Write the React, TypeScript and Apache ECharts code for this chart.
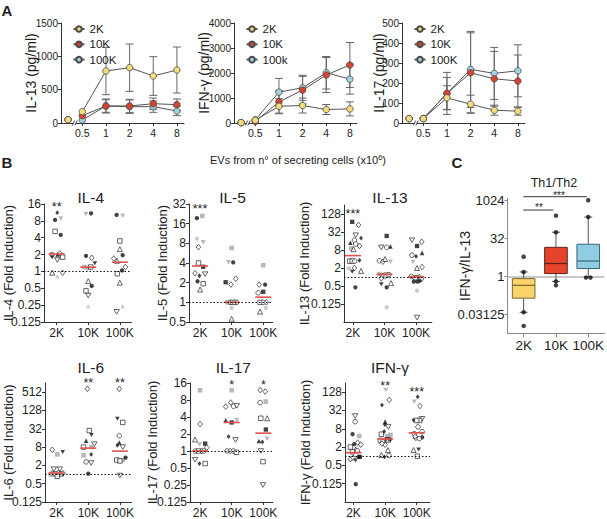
import { useEffect, useRef } from 'react';
import * as echarts from 'echarts';

const FONT = '"Liberation Sans", Arial, Helvetica, sans-serif';
const INK = '#222';

// ---------------- Panel A : time courses ----------------
const timeLabels = ['0.5', '1', '2', '4', '8'];
// first position = unstimulated baseline drawn before the axis break
const timePositions = [-0.6, 0, 1, 2, 3, 4];
const groups = ['2K', '10K', '100K'];
const groupFill = ['#f4dc7c', '#d9432d', '#a3d3e1'];

const il13Mean2K = [50, 170, 780, 830, 705, 795];
const il13Sd2K = [0, 0, 355, 355, 290, 345];
const il13Mean10K = [50, 110, 255, 255, 290, 275];
const il13Sd10K = [0, 0, 105, 100, 85, 85];
const il13Mean100K = [50, 45, 255, 245, 245, 180];
const il13Sd100K = [0, 0, 95, 100, 85, 70];

const ifngMean2K = [15, 110, 670, 700, 540, 565];
const ifngSd2K = [0, 0, 300, 300, 200, 280];
const ifngMean10K = [15, 60, 845, 1315, 1920, 2320];
const ifngSd10K = [0, 0, 450, 550, 700, 900];
const ifngMean100K = [15, 130, 1235, 1410, 2010, 1755];
const ifngSd100K = [0, 0, 550, 500, 650, 600];

const il17Mean2K = [22, 22, 126, 94, 64, 59];
const il17Sd2K = [0, 0, 60, 45, 25, 20];
const il17Mean10K = [22, 22, 148, 251, 221, 210];
const il17Sd10K = [0, 0, 105, 200, 137, 130];
const il17Mean100K = [22, 22, 148, 268, 248, 261];
const il17Sd100K = [0, 0, 80, 190, 130, 130];

const panelA = [
  { yName: 'IL-13 (pg/ml)', yMax: 1500, yStep: 500, legend: ['2K', '10K', '100K'],
    means: [il13Mean2K, il13Mean10K, il13Mean100K], sds: [il13Sd2K, il13Sd10K, il13Sd100K] },
  { yName: 'IFN-γ (pg/ml)', yMax: 4000, yStep: 1000, legend: ['2K', '10K', '100k'],
    means: [ifngMean2K, ifngMean10K, ifngMean100K], sds: [ifngSd2K, ifngSd10K, ifngSd100K] },
  { yName: 'IL-17 (pg/ml)', yMax: 500, yStep: 100, legend: ['2K', '10K', '100K'],
    means: [il17Mean2K, il17Mean10K, il17Mean100K], sds: [il17Sd2K, il17Sd10K, il17Sd100K] },
];
const panelALayout = [
  { left: 61, nameGap: 23 },
  { left: 234, nameGap: 23 },
  { left: 402, nameGap: 16 },
];

// ---------------- Panel B : fold induction dot plots ----------------
// [group index, horizontal jitter (group units), fold induction, marker code]
type Pt = [number, number, number, string];

const il4Points: Pt[] = [
  [0, 0.02, 11.2, 'D'], [0, -0.05, 8.3, 'c'], [0, 0.13, 8.8, 'w'], [0, -0.05, 5.2, 's'], [0, 0.13, 4.5, 'c'],
  [0, 0.1, 2.1, 'd'], [0, -0.15, 2.0, 'o'], [0, 0.03, 2.0, 'T'], [0, -0.14, 1.8, 'V'], [0, 0.02, 1.6, 'v'], [0, 0.19, 1.8, 's'],
  [0, -0.14, 0.95, 't'], [0, 0.02, 0.82, 'x'], [0, 0.19, 0.95, 'd'],
  [1, -0.07, 10.6, 'w'], [1, 0.09, 10.9, 'c'], [1, -0.07, 1.9, 'c'], [1, 0.11, 1.75, 'd'], [1, 0.21, 1.4, 'V'],
  [1, -0.12, 1.2, 'g'], [1, 0.0, 1.15, 'g'], [1, 0.08, 1.2, 's'],
  [1, 0, 0.67, 't'], [1, 0.11, 0.55, 'c'], [1, -0.07, 0.45, 's'], [1, 0, 0.37, 'v'], [1, 0, 0.24, 'x'],
  [2, -0.1, 10.2, 'c'], [2, 0.09, 9.8, 'w'], [2, 0, 3.5, 's'], [2, 0, 2.5, 't'], [2, -0.19, 1.7, 'd'], [2, -0.09, 1.55, 't'],
  [2, 0.09, 1.95, 'c'], [2, 0.18, 1.2, 'd'], [2, 0.07, 1.04, 'c'], [2, -0.08, 0.91, 's'], [2, 0, 0.63, 't'],
  [2, -0.1, 0.19, 'v'], [2, 0.09, 0.24, 'x'],
];
const il4Medians = [2.05, 1.19, 1.46];

const il5Points: Pt[] = [
  [0, -0.1, 19.4, 'c'], [0, 0.07, 21, 'g'], [0, -0.1, 9.4, 'G'], [0, 0.1, 8.3, 'w'], [0, -0.05, 7.0, 'd'],
  [0, -0.05, 4.0, 's'], [0, 0.1, 3.5, 'S'], [0, -0.16, 2.8, 'd'], [0, -0.02, 2.55, 'D'], [0, 0.16, 2.7, 'v'],
  [0, -0.08, 2.1, 'c'], [0, 0.1, 1.93, 's'], [0, 0, 1.57, 't'],
  [1, 0, 6.8, 'g'], [1, -0.1, 4.1, 'w'], [1, 0.05, 4.1, 'c'], [1, -0.19, 2.03, 'S'], [1, 0.13, 2.3, 'd'], [1, -0.02, 1.87, 'd'],
  [1, -0.13, 1.0, 'g'], [1, -0.05, 1.0, 'o'], [1, 0.03, 1.0, 's'], [1, 0.1, 1.0, 'o'], [1, 0.17, 1.0, 'd'],
  [1, 0, 0.82, 'G'], [1, 0, 0.56, 't'],
  [2, 0, 3.7, 'g'], [2, -0.13, 1.87, 'd'], [2, 0.06, 1.87, 'c'], [2, 0, 1.45, 'S'], [2, -0.16, 1.4, 'o'],
  [2, -0.1, 1.0, 's'], [2, 0, 1.0, 'o'], [2, 0.1, 1.0, 'd'],
  [2, -0.1, 0.72, 't'], [2, 0.08, 0.82, 'G'],
];
const il5Medians = [3.6, 1.0, 1.2];

const il13Points: Pt[] = [
  [0, -0.02, 70, 'S'], [0, 0.18, 55, 'd'], [0, 0.09, 25, 'v'], [0, 0.26, 20, 'D'], [0, 0.05, 17, 'o'], [0, -0.08, 14, 'T'],
  [0, 0.09, 12.7, 'o'], [0, 0.21, 10.9, 'd'], [0, -0.05, 9.1, 'g'], [0, 0.02, 8.5, 't'],
  [0, -0.1, 3.4, 's'], [0, -0.02, 3.4, 's'], [0, 0.06, 3.4, 'o'], [0, 0.21, 3.6, 'D'],
  [0, -0.13, 1.96, 'G'], [0, 0.05, 2.0, 'd'], [0, -0.02, 1.5, 'V'], [0, 0.26, 1.6, 't'], [0, 0.08, 0.45, 'c'],
  [1, 0.07, 23.6, 'S'], [1, -0.1, 9.8, 'v'], [1, 0.07, 9.8, 'o'], [1, 0.19, 10.5, 'T'],
  [1, -0.16, 3.5, 'o'], [1, -0.05, 3.25, 'd'], [1, 0.02, 4.0, 't'], [1, 0.19, 3.25, 'w'],
  [1, -0.16, 1.25, 'g'], [1, -0.05, 1.1, 'd'], [1, 0.05, 1.15, 's'], [1, 0.14, 1.2, 'o'], [1, 0.02, 0.95, 'G'], [1, -0.1, 0.9, 'd'],
  [1, -0.1, 0.57, 'V'], [1, 0.07, 0.45, 'c'], [1, 0.21, 0.62, 't'], [1, 0.07, 0.097, 'G'],
  [2, -0.13, 17, 'v'], [2, 0.18, 15, 'd'], [2, 0.03, 10.9, 'S'], [2, -0.13, 5.4, 'o'], [2, 0, 4.9, 'D'], [2, 0.19, 6.4, 'T'],
  [2, -0.1, 3.2, 'w'], [2, 0.03, 2.0, 't'], [2, 0.19, 2.15, 'd'],
  [2, -0.15, 1.05, 'o'], [2, 0.1, 1.0, 'd'], [2, -0.02, 0.95, 's'], [2, 0.16, 0.85, 'o'],
  [2, -0.07, 0.7, 'c'], [2, 0.05, 0.7, 'c'], [2, 0.13, 0.75, 'D'], [2, 0.03, 0.35, 'G'], [2, 0.03, 0.044, 'v'],
];
const il13Medians = [5.2, 1.23, 1.02];

const il6Points: Pt[] = [
  [0, -0.14, 6.5, 'd'], [0, 0.02, 4.6, 'g'], [0, 0.19, 5.5, 'V'], [0, -0.09, 1.5, 'v'], [0, 0.1, 1.5, 'v'],
  [0, -0.14, 1.1, 'o'], [0, -0.05, 1.05, 's'], [0, 0.05, 1.15, 'd'], [0, 0.14, 1.05, 's'], [0, 0.2, 1.1, 'd'],
  [0, -0.18, 1.0, 'g'], [0, 0.02, 0.87, 's'],
  [1, -0.03, 660, 'd'], [1, 0.03, 28, 's'], [1, 0.1, 20, 'V'], [1, -0.07, 13, 'T'], [1, -0.15, 8, 's'], [1, 0.19, 10, 'v'],
  [1, 0.1, 8, 'g'], [1, -0.15, 4.3, 'g'], [1, 0.09, 4.6, 'D'], [1, -0.07, 2.6, 'o'], [1, 0.09, 2.4, 'v'], [1, 0, 1.07, 'c'],
  [2, -0.02, 660, 'd'], [2, -0.08, 68, 'V'], [2, 0.09, 52, 's'], [2, -0.02, 19, 'o'], [2, -0.02, 11.3, 'T'], [2, 0.09, 8, 'v'],
  [2, -0.08, 9.2, 'D'], [2, -0.1, 3, 's'], [2, 0.09, 3, 'g'], [2, 0.18, 3.6, 'c'], [2, 0, 2.8, 's'], [2, 0, 0.93, 'v'],
];
const il6Medians = [1.12, 7.4, 5.9];

const il17Points: Pt[] = [
  [0, 0, 11.9, 'g'], [0, 0, 3.0, 'd'], [0, -0.16, 1.6, 't'], [0, -0.02, 1.3, 'w'], [0, 0.16, 1.35, 'S'], [0, 0.21, 1.15, 'd'],
  [0, -0.15, 1.0, 'o'], [0, -0.05, 1.0, 's'], [0, 0.05, 1.0, 'd'], [0, 0.12, 1.0, 'o'],
  [0, -0.16, 0.7, 'v'], [0, -0.02, 0.6, 'D'], [0, 0.16, 0.6, 's'],
  [1, 0, 11.9, 'g'], [1, -0.03, 7.2, 'd'], [1, -0.19, 6.1, 'd'], [1, 0.06, 6.2, 'o'], [1, 0.16, 6.3, 'v'],
  [1, -0.19, 3.5, 'T'], [1, 0.16, 3.5, 'w'], [1, 0, 3.2, 'S'], [1, -0.1, 1.8, 'D'], [1, 0.12, 1.57, 'v'],
  [1, -0.15, 1.0, 'o'], [1, -0.05, 1.0, 'd'], [1, 0.05, 1.0, 'o'], [1, 0.15, 0.95, 's'],
  [2, -0.1, 12, 'd'], [2, 0.06, 11.3, 'd'], [2, -0.1, 7.2, 'o'], [2, 0.08, 7.5, 'g'], [2, -0.08, 3.8, 's'], [2, 0.12, 3.8, 't'],
  [2, 0.08, 2.4, 'S'], [2, -0.14, 1.5, 'T'], [2, -0.03, 1.45, 'D'], [2, 0.12, 1.65, 'w'], [2, -0.08, 1.0, 'v'],
  [2, -0.01, 0.65, 's'], [2, -0.01, 0.25, 'v'],
];
const il17Medians = [1.0, 3.2, 2.07];

const ifngPoints: Pt[] = [
  [0, 0.05, 21, 'v'], [0, 0.05, 13.7, 'o'], [0, -0.03, 5.3, 'c'], [0, 0.18, 4.6, 'g'], [0, 0.02, 2.5, 'c'],
  [0, 0.13, 2.8, 'd'], [0, 0.23, 2.4, 'd'], [0, -0.1, 2.0, 's'], [0, 0.07, 1.66, 't'], [0, -0.03, 1.4, 's'], [0, 0.12, 1.5, 'o'],
  [0, -0.1, 0.8, 'd'], [0, -0.02, 0.9, 'd'], [0, 0.06, 0.72, 'V'], [0, 0.2, 0.95, 'S'], [0, 0.16, 0.95, 'c'], [0, 0.07, 0.12, 'c'],
  [1, 0.02, 150, 'w'], [1, 0.13, 71, 'd'], [1, -0.1, 48, 'D'], [1, 0, 13.7, 'T'], [1, -0.01, 11, 'D'], [1, 0.1, 9.2, 'v'],
  [1, -0.12, 5.3, 's'], [1, -0.03, 6.5, 'D'], [1, 0.07, 4.6, 'g'], [1, 0.17, 5.0, 'g'],
  [1, -0.15, 3.3, 's'], [1, 0.05, 3.6, 'S'], [1, -0.08, 3.0, 'o'], [1, 0, 2.4, 'd'], [1, 0.1, 3.4, 's'], [1, 0.15, 3.6, 'c'],
  [1, -0.1, 2.6, 'd'], [1, -0.12, 1.1, 't'], [1, -0.02, 0.95, 'D'], [1, 0.12, 1.05, 'o'], [1, 0.09, 1.6, 't'],
  [2, -0.08, 62, 'w'], [2, 0.03, 90, 'D'], [2, 0.1, 45, 'd'], [2, 0.17, 17, 'v'], [2, 0.09, 15, 's'], [2, -0.1, 15.5, 'D'],
  [2, 0, 15, 's'], [2, 0.04, 9.2, 'o'], [2, 0.17, 6.4, 'o'], [2, 0.17, 4.2, 'c'], [2, -0.08, 5.5, 'o'], [2, -0.03, 4.0, 'o'],
  [2, 0.08, 3.8, 'o'], [2, -0.05, 4.5, 'd'], [2, -0.1, 1.6, 't'], [2, 0.06, 1.65, 'V'], [2, 0.02, 1.0, 's'],
];
const ifngMedians = [1.31, 3.7, 5.9];

const foldPlots = [
  { title: 'IL-4', yName: 'IL-4 (Fold Induction)', points: il4Points, medians: il4Medians, yMin: -3, yMax: 4, tickFrom: -3, tickTo: 4, tickStep: 1, stars: ['**', '', ''] },
  { title: 'IL-5', yName: 'IL-5 (Fold Induction)', points: il5Points, medians: il5Medians, yMin: -1, yMax: 5, tickFrom: -1, tickTo: 5, tickStep: 1, stars: ['***', '', ''] },
  { title: 'IL-13', yName: 'IL-13 (Fold Induction)', points: il13Points, medians: il13Medians, yMin: -5, yMax: 8, tickFrom: -3, tickTo: 7, tickStep: 2, stars: ['***', '', ''] },
  { title: 'IL-6', yName: 'IL-6 (Fold Induction)', points: il6Points, medians: il6Medians, yMin: -3, yMax: 10, tickFrom: -3, tickTo: 9, tickStep: 2, stars: ['', '**', '**'] },
  { title: 'IL-17', yName: 'IL-17 (Fold Induction)', points: il17Points, medians: il17Medians, yMin: -3, yMax: 4, tickFrom: -3, tickTo: 4, tickStep: 1, stars: ['', '*', '*'] },
  { title: 'IFN-γ', yName: 'IFN-γ (Fold Induction)', points: ifngPoints, medians: ifngMedians, yMin: -5, yMax: 8, tickFrom: -3, tickTo: 7, tickStep: 2, stars: ['', '**', '***'] },
];
const foldLayout = [
  { left: 44, top: 204, width: 87.5, height: 118, xMin: -0.4, xMax: 2.37, nameGap: 29, titleX: 90.8, titleY: 197, starY: [204, 0, 0] },
  { left: 189, top: 204, width: 83.7, height: 118, xMin: -0.35, xMax: 2.3, nameGap: 20, titleX: 232.5, titleY: 197, starY: [205.5, 0, 0] },
  { left: 344, top: 205, width: 87.9, height: 117, xMin: -0.28, xMax: 2.5, nameGap: 33, titleX: 390, titleY: 197, starY: [210.5, 0, 0] },
  { left: 45, top: 383, width: 86.6, height: 119, xMin: -0.37, xMax: 2.37, nameGap: 30, titleX: 90.8, titleY: 367.5, starY: [0, 379.5, 379.5] },
  { left: 190, top: 383, width: 82.8, height: 119, xMin: -0.32, xMax: 2.3, nameGap: 31.5, titleX: 233.3, titleY: 367.5, starY: [0, 382, 382] },
  { left: 345, top: 383, width: 85, height: 119, xMin: -0.27, xMax: 2.42, nameGap: 33.5, titleX: 390, titleY: 367.5, starY: [0, 382.5, 389] },
];

// ---------------- Panel C : Th1/Th2 ratio boxplot ----------------
const ratioWhiskerLow = [0.038, 0.63, 0.94];
const ratioQ1 = [0.137, 1.28, 2.03];
const ratioMedian = [0.44, 3.2, 4.0];
const ratioQ3 = [0.81, 13.9, 18.4];
const ratioWhiskerHigh = [1.48, 55, 218];
// [group index, jitter, value]
const ratioDots: [number, number, number][] = [
  [0, 0, 5.9], [0, 0, 1.48], [0, 0, 0.038], [0, 0, 0.011],
  [1, 0, 247], [1, 0, 55], [1, 0, 0.63], [1, 0, 0.44],
  [2, 0, 1000], [2, 0, 218], [2, -0.07, 0.89], [2, 0.07, 0.89],
];
const ratioTicks = [-5, 0, 5, 10];
const boxFill = ['#fad46a', '#e5432b', '#8fcde4'];
const boxStroke = ['#7a6630', '#5c2419', '#3d6676'];

const DOWN = 'path://M0,0L10,0L5,8.66Z';
const markers: Record<string, { symbol: string; size: any; fill: string; stroke?: string }> = {
  c: { symbol: 'circle', size: 4.3, fill: '#111' },
  o: { symbol: 'circle', size: 4.6, fill: '#fff', stroke: '#111' },
  G: { symbol: 'circle', size: 4.3, fill: '#bdbdbd' },
  s: { symbol: 'rect', size: 4.5, fill: '#fff', stroke: '#111' },
  S: { symbol: 'rect', size: 4.3, fill: '#111' },
  g: { symbol: 'rect', size: 4.6, fill: '#a6a6a6' },
  t: { symbol: 'triangle', size: 5, fill: '#fff', stroke: '#111' },
  T: { symbol: 'triangle', size: 4.6, fill: '#111' },
  x: { symbol: 'triangle', size: 4.6, fill: '#c2c2c2' },
  v: { symbol: DOWN, size: [5.4, 4.6], fill: '#fff', stroke: '#111' },
  V: { symbol: DOWN, size: [4.6, 4], fill: '#111' },
  w: { symbol: DOWN, size: [5, 4.4], fill: '#a6a6a6' },
  d: { symbol: 'diamond', size: [4.6, 5.6], fill: '#fff', stroke: '#111' },
  D: { symbol: 'diamond', size: [3.8, 4.8], fill: '#111' },
};

const txt = (text: string, x: number, y: number, size: number, extra: any = {}) => ({
  type: 'text', x, y, silent: true,
  style: { text, fill: INK, fontSize: size, fontFamily: FONT, align: 'center', verticalAlign: 'middle',
    textAlign: 'center', textVerticalAlign: 'middle', ...extra },
});

function errorBarRender(_p: any, api: any) {
  const x = api.value(0), m = api.value(1), sd = api.value(2);
  const t = api.coord([x, m + sd]);
  const b = api.coord([x, m - sd]);
  const st = { stroke: '#666', lineWidth: 1 };
  return {
    type: 'group', children: [
      { type: 'line', shape: { x1: t[0], y1: t[1], x2: b[0], y2: b[1] }, style: st },
      { type: 'line', shape: { x1: t[0] - 4, y1: t[1], x2: t[0] + 4, y2: t[1] }, style: st },
      { type: 'line', shape: { x1: b[0] - 4, y1: b[1], x2: b[0] + 4, y2: b[1] }, style: st },
    ],
  };
}

function medianRender(_p: any, api: any) {
  const p = api.coord([api.value(0), api.value(1)]);
  return { type: 'line', shape: { x1: p[0] - 8, y1: p[1], x2: p[0] + 8, y2: p[1] }, style: { stroke: '#e2504c', lineWidth: 1.6 } };
}

function boxRender(params: any, api: any) {
  const i = params.dataIndex;
  const x = api.value(0);
  const lo = api.coord([x, api.value(1)]);
  const q1 = api.coord([x, api.value(2)]);
  const md = api.coord([x, api.value(3)]);
  const q3 = api.coord([x, api.value(4)]);
  const hi = api.coord([x, api.value(5)]);
  const hw = 11.3, cap = 4;
  const ws = { stroke: '#555', lineWidth: 1 };
  const cx = md[0];
  return {
    type: 'group', children: [
      { type: 'line', shape: { x1: cx, y1: hi[1], x2: cx, y2: q3[1] }, style: ws },
      { type: 'line', shape: { x1: cx, y1: lo[1], x2: cx, y2: q1[1] }, style: ws },
      { type: 'line', shape: { x1: cx - cap, y1: hi[1], x2: cx + cap, y2: hi[1] }, style: ws },
      { type: 'line', shape: { x1: cx - cap, y1: lo[1], x2: cx + cap, y2: lo[1] }, style: ws },
      { type: 'rect', shape: { x: cx - hw, y: q3[1], width: 2 * hw, height: q1[1] - q3[1] }, style: { fill: boxFill[i], stroke: boxStroke[i], lineWidth: 1 } },
      { type: 'line', shape: { x1: cx - hw, y1: md[1], x2: cx + hw, y2: md[1] }, style: { stroke: boxStroke[i], lineWidth: 1.2 } },
    ],
  };
}

function powLabel(v: number) {
  return String(Math.pow(2, Math.round(v)));
}

function buildOption() {
  const grid: any[] = [], xAxis: any[] = [], yAxis: any[] = [], series: any[] = [], legend: any[] = [];
  const graphic: any[] = [];
  const axisCommon = (color: string) => ({
    axisLine: { show: true, onZero: false, lineStyle: { color, width: 1 } },
    splitLine: { show: false },
    nameMoveOverlap: false,
  });
  let gi = 0;

  // ---- Panel A
  panelA.forEach((cfg, k) => {
    const L = panelALayout[k];
    grid.push({ left: L.left, top: 23, width: 123, height: 100, containLabel: false });
    xAxis.push({
      type: 'value', gridIndex: gi, min: -0.9, max: 4.3, ...axisCommon('#333'),
      axisTick: { show: true, customValues: [0, 1, 2, 3, 4], length: 3, lineStyle: { color: '#333' } },
      axisLabel: { customValues: [0, 1, 2, 3, 4], formatter: (v: number) => timeLabels[Math.round(v)] ?? '', fontSize: 10.5, color: INK, margin: 4, fontFamily: FONT },
    });
    yAxis.push({
      type: 'value', gridIndex: gi, min: 0, max: cfg.yMax, interval: cfg.yStep, ...axisCommon('#333'),
      name: cfg.yName, nameLocation: 'middle', nameGap: L.nameGap, nameTextStyle: { fontSize: 14, fontFamily: FONT, color: INK },
      axisTick: { show: true, length: 3, lineStyle: { color: '#333' } },
      axisLabel: { formatter: (v: number) => String(v), fontSize: 10, color: INK, margin: 3, fontFamily: FONT },
    });
    [2, 1, 0].forEach((g) => {
      series.push({
        type: 'custom', xAxisIndex: gi, yAxisIndex: gi, silent: true, z: 1, renderItem: errorBarRender,
        data: cfg.means[g].map((m, i) => [timePositions[i], m, cfg.sds[g][i]]).filter((d) => d[2] > 0),
      });
    });
    [2, 1, 0].forEach((g) => {
      const d: any[] = [];
      cfg.means[g].forEach((m, i) => {
        d.push([timePositions[i], m]);
        if (i === 0) d.push([(timePositions[0] + timePositions[1]) / 2, '-']);
      });
      series.push({
        type: 'line', name: cfg.legend[g], xAxisIndex: gi, yAxisIndex: gi, data: d, z: 3,
        symbol: 'circle', symbolSize: 6.5, showAllSymbol: true, connectNulls: false,
        itemStyle: { color: groupFill[g], borderColor: '#4a4a4a', borderWidth: 0.8 },
        lineStyle: { color: '#555', width: 1 },
      });
    });
    legend.push({
      orient: 'vertical', left: L.left + 11.5, top: 23, padding: 0, itemWidth: 11, itemHeight: 7, itemGap: 3.3,
      data: cfg.legend, selectedMode: false,
      textStyle: { fontSize: 11.5, fontFamily: FONT, color: INK, lineHeight: 10 },
    });
    // axis break mark after the baseline point
    const bx = L.left + 12.5, by = 123;
    graphic.push({ type: 'rect', silent: true, z: 50, shape: { x: bx, y: by - 1.5, width: 2.5, height: 3 }, style: { fill: '#fff' } });
    graphic.push({ type: 'line', silent: true, z: 51, shape: { x1: bx - 1.2, y1: by + 2.5, x2: bx + 1.2, y2: by - 2.5 }, style: { stroke: '#333', lineWidth: 0.9 } });
    graphic.push({ type: 'line', silent: true, z: 51, shape: { x1: bx + 1.3, y1: by + 2.5, x2: bx + 3.7, y2: by - 2.5 }, style: { stroke: '#333', lineWidth: 0.9 } });
    gi++;
  });

  // ---- Panel B
  foldPlots.forEach((p, k) => {
    const L = foldLayout[k];
    const ticks: number[] = [];
    for (let t = p.tickFrom; t <= p.tickTo; t += p.tickStep) ticks.push(t);
    grid.push({ left: L.left, top: L.top, width: L.width, height: L.height, containLabel: false });
    xAxis.push({
      type: 'value', gridIndex: gi, min: L.xMin, max: L.xMax, ...axisCommon('#333'),
      axisTick: { show: true, customValues: [0, 1, 2], length: 3, lineStyle: { color: '#333' } },
      axisLabel: { customValues: [0, 1, 2], formatter: (v: number) => groups[Math.round(v)] ?? '', fontSize: 12, color: INK, margin: 5, fontFamily: FONT },
    });
    yAxis.push({
      type: 'value', gridIndex: gi, min: p.yMin, max: p.yMax, ...axisCommon('#333'),
      name: p.yName, nameLocation: 'middle', nameGap: L.nameGap, nameTextStyle: { fontSize: 13, fontFamily: FONT, color: INK },
      axisTick: { show: true, customValues: ticks, length: 3, lineStyle: { color: '#333' } },
      axisLabel: { customValues: ticks, formatter: powLabel, fontSize: 12, color: INK, margin: 3, fontFamily: FONT },
    });
    series.push({
      type: 'scatter', xAxisIndex: gi, yAxisIndex: gi, silent: true, z: 3,
      data: p.points.map(([g, j, v, m]) => {
        const mk = markers[m];
        return {
          value: [g + j, Math.log2(v)], symbol: mk.symbol, symbolSize: mk.size,
          itemStyle: { color: mk.fill, borderColor: mk.stroke ?? mk.fill, borderWidth: mk.stroke ? 0.8 : 0 },
        };
      }),
      markLine: {
        silent: true, symbol: ['none', 'none'], label: { show: false },
        lineStyle: { type: [1.5, 2], color: '#111', width: 1.2 }, data: [{ yAxis: 0 }],
      },
    });
    series.push({
      type: 'custom', xAxisIndex: gi, yAxisIndex: gi, silent: true, z: 4, renderItem: medianRender,
      data: p.medians.map((m, i) => [i, Math.log2(m)]),
    });
    graphic.push(txt(p.title, L.titleX, L.titleY, 15.5, { lineHeight: 13 }));
    const unit = L.width / (L.xMax - L.xMin);
    p.stars.forEach((s, i) => {
      if (s) graphic.push(txt(s, L.left + (i - L.xMin) * unit, L.starY[i] + 3, 12.5, { lineHeight: 8 }));
    });
    gi++;
  });

  // ---- Panel C
  grid.push({ left: 507.5, top: 198.5, width: 99, height: 135, containLabel: false });
  xAxis.push({
    type: 'value', gridIndex: gi, min: -0.5, max: 2.5, ...axisCommon('#8a8a8a'),
    axisTick: { show: true, customValues: [0, 1, 2], length: 4, lineStyle: { color: '#8a8a8a' } },
    axisLabel: { customValues: [0, 1, 2], formatter: (v: number) => groups[Math.round(v)] ?? '', fontSize: 13.5, color: INK, margin: 5, fontFamily: FONT },
  });
  yAxis.push({
    type: 'value', gridIndex: gi, min: -7.5, max: 10.2, ...axisCommon('#8a8a8a'),
    name: 'IFN-γ/IL-13', nameLocation: 'middle', nameGap: 36, nameTextStyle: { fontSize: 14, fontFamily: FONT, color: INK },
    axisTick: { show: true, customValues: ratioTicks, length: 3, lineStyle: { color: '#8a8a8a' } },
    axisLabel: { customValues: ratioTicks, formatter: powLabel, fontSize: 13, color: INK, margin: 3, fontFamily: FONT },
  });
  series.push({
    type: 'custom', xAxisIndex: gi, yAxisIndex: gi, silent: true, z: 2, renderItem: boxRender,
    encode: { x: 0, y: [1, 2, 3, 4, 5] },
    data: groups.map((_, i) => [i, Math.log2(ratioWhiskerLow[i]), Math.log2(ratioQ1[i]), Math.log2(ratioMedian[i]), Math.log2(ratioQ3[i]), Math.log2(ratioWhiskerHigh[i])]),
  });
  series.push({
    type: 'scatter', xAxisIndex: gi, yAxisIndex: gi, silent: true, z: 3, symbol: 'circle', symbolSize: 4.5,
    itemStyle: { color: '#111' },
    data: ratioDots.map(([g, j, v]) => [g + j, Math.log2(v)]),
    markLine: {
      silent: true, symbol: ['none', 'none'], label: { show: false }, z: 1,
      lineStyle: { type: 'solid', color: '#b5b5b5', width: 1.5 }, data: [{ yAxis: 0 }],
    },
  });

  // ---- annotations
  graphic.push(txt('A', 7, 10, 15, { fontWeight: 'bold' }));
  graphic.push(txt('B', 7, 162, 15, { fontWeight: 'bold' }));
  graphic.push(txt('C', 457, 162, 15, { fontWeight: 'bold' }));
  graphic.push(txt('EVs from n° of secreting cells (x10{sup|6})', 298, 160, 11, {
    lineHeight: 13, rich: { sup: { fontSize: 7.5, verticalAlign: 'top', lineHeight: 13, fontFamily: FONT, fill: INK } },
  }));
  graphic.push(txt('Th1/Th2', 554, 183, 12.5));
  graphic.push({ type: 'line', silent: true, shape: { x1: 523.3, y1: 210, x2: 553.3, y2: 210 }, style: { stroke: '#333', lineWidth: 1 } });
  graphic.push({ type: 'line', silent: true, shape: { x1: 523.3, y1: 196.7, x2: 586.7, y2: 196.7 }, style: { stroke: '#333', lineWidth: 1 } });
  graphic.push(txt('**', 539, 207.5, 10, { fill: '#222', lineHeight: 7 }));
  graphic.push(txt('***', 559, 195.5, 10, { fill: '#222', lineHeight: 7 }));

  return {
    animation: false,
    backgroundColor: '#fff',
    textStyle: { fontFamily: FONT },
    grid, xAxis, yAxis, series, legend, graphic,
  };
}

export default function App() {
  const ref = useRef<HTMLDivElement>(null);
  useEffect(() => {
    const chart = echarts.init(ref.current as HTMLDivElement, null, { renderer: 'svg' });
    chart.setOption(buildOption() as any);
    return () => chart.dispose();
  }, []);
  return <div ref={ref} style={{ position: 'fixed', left: 0, top: 0, width: 607, height: 519, background: '#fff' }} />;
}
